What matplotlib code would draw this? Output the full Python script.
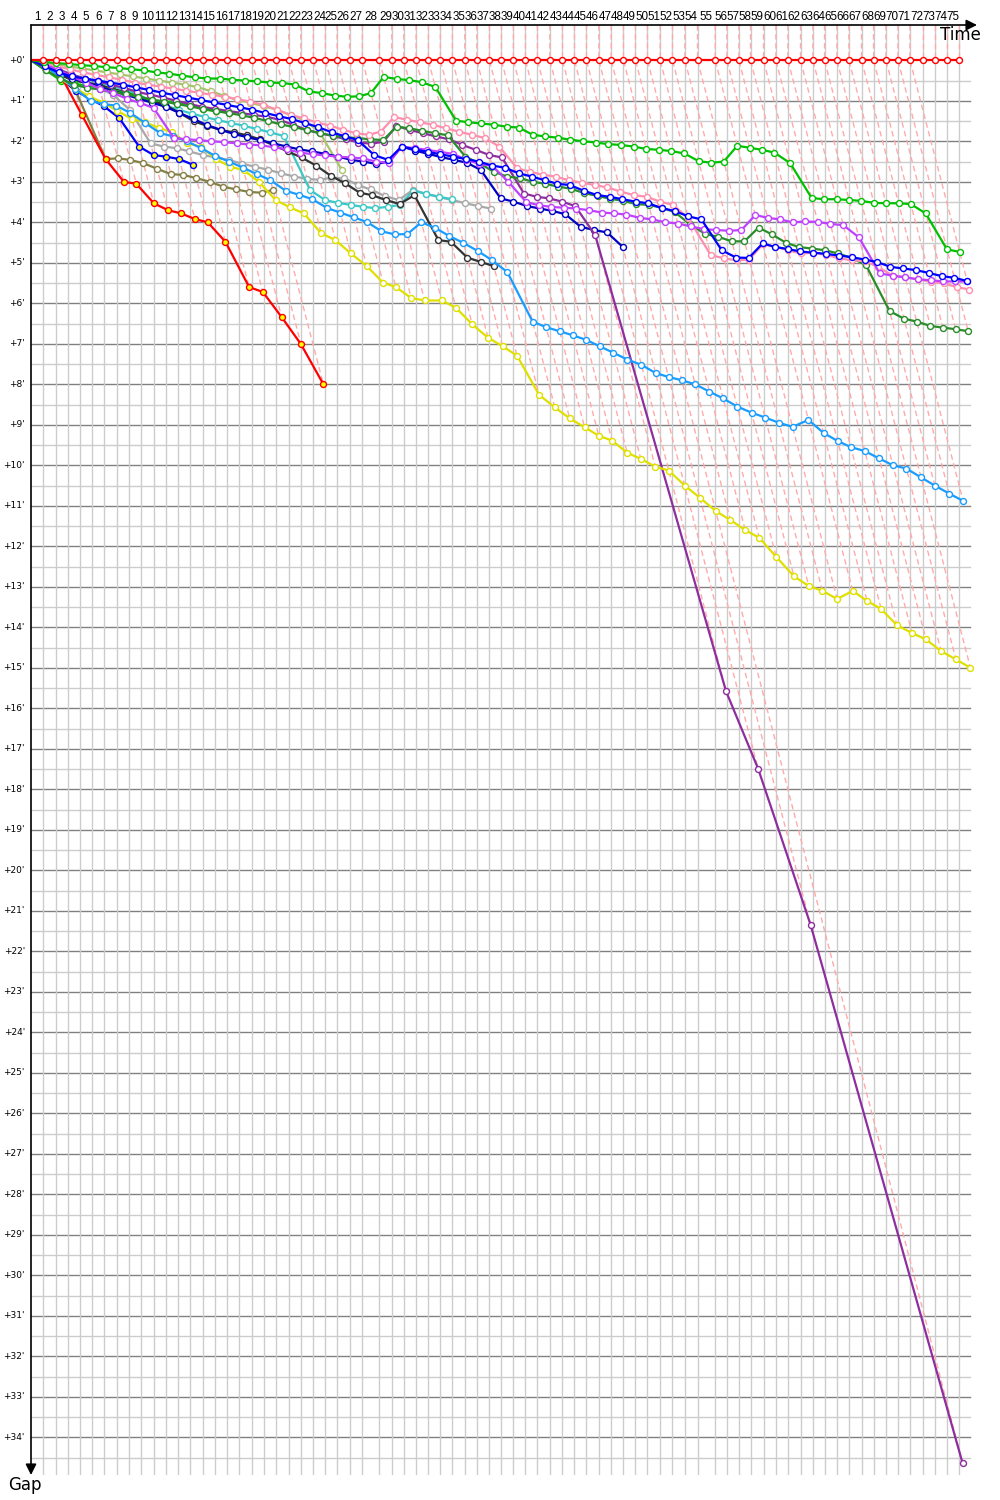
import matplotlib
matplotlib.use('Agg')
import matplotlib.pyplot as plt
import numpy as np

leader_lap_s = [70.3, 70.9, 68.6, 70.3, 70.3, 68.6, 70.9, 70.3, 70.3, 70.9,
                68.6, 72.0, 68.6, 70.9, 70.3, 70.3, 68.6, 70.9, 70.3, 70.3,
                70.9, 68.6, 72.0, 68.6, 66.9, 71.4, 73.1, 97.1, 70.9, 68.6,
                70.3, 70.3, 68.6, 68.6, 70.9, 68.6, 72.0, 68.6, 68.6, 68.6,
                68.6, 70.9, 72.0, 68.6, 68.6, 70.9, 70.3, 70.3, 68.6, 68.6,
                72.6, 70.3, 70.9, 72.0, 101.1, 66.9, 68.6, 66.3, 74.3, 70.9,
                68.6, 72.0, 70.9, 66.3, 70.9, 68.6, 72.0, 68.6, 70.9, 68.6,
                68.6, 74.3, 68.6, 68.6, 70.3]

# gaps to the leader in minutes, one value per completed lap
gap_leader = [0.0, 0.0, 0.0, 0.0, 0.0, 0.0, 0.0, 0.0, 0.0, 0.0,
              0.0, 0.0, 0.0, 0.0, 0.0, 0.0, 0.0, 0.0, 0.0, 0.0,
              0.0, 0.0, 0.0, 0.0, 0.0, 0.0, 0.0, 0.0, 0.0, 0.0,
              0.0, 0.0, 0.0, 0.0, 0.0, 0.0, 0.0, 0.0, 0.0, 0.0,
              0.0, 0.0, 0.0, 0.0, 0.0, 0.0, 0.0, 0.0, 0.0, 0.0,
              0.0, 0.0, 0.0, 0.0, 0.0, 0.0, 0.0, 0.0, 0.0, 0.0,
              0.0, 0.0, 0.0, 0.0, 0.0, 0.0, 0.0, 0.0, 0.0, 0.0,
              0.0, 0.0, 0.0, 0.0, 0.0]

gap_green = [0.04, 0.07, 0.09, 0.12, 0.14, 0.17, 0.19, 0.22, 0.25, 0.30,
             0.33, 0.38, 0.42, 0.45, 0.45, 0.48, 0.50, 0.52, 0.55, 0.56,
             0.60, 0.77, 0.81, 0.87, 0.90, 0.89, 0.81, 0.41, 0.46, 0.49,
             0.54, 0.66, 1.49, 1.53, 1.56, 1.59, 1.64, 1.66, 1.84, 1.88,
             1.91, 1.96, 2.00, 2.03, 2.07, 2.09, 2.13, 2.19, 2.21, 2.24,
             2.30, 2.49, 2.53, 2.50, 2.11, 2.16, 2.21, 2.28, 2.54, 3.40,
             3.43, 3.43, 3.45, 3.47, 3.52, 3.53, 3.53, 3.55, 3.78, 4.67, 4.73]

gap_blue = [0.15, 0.30, 0.40, 0.45, 0.50, 0.55, 0.60, 0.67, 0.73, 0.80,
            0.86, 0.92, 0.98, 1.04, 1.10, 1.16, 1.22, 1.30, 1.38, 1.45,
            1.55, 1.65, 1.78, 1.88, 1.97, 2.34, 2.46, 2.13, 2.20, 2.26,
            2.32, 2.38, 2.44, 2.50, 2.60, 2.65, 2.79, 2.87, 2.96, 3.05,
            3.08, 3.22, 3.33, 3.37, 3.43, 3.49, 3.53, 3.65, 3.72, 3.85,
            3.93, 4.69, 4.87, 4.88, 4.52, 4.61, 4.66, 4.72, 4.75, 4.78,
            4.82, 4.86, 4.92, 4.98, 5.10, 5.14, 5.18, 5.25, 5.33, 5.37, 5.45]

gap_violet = [0.10, 0.25, 0.40, 0.55, 0.70, 0.80, 0.95, 1.05, 1.18, 1.92,
              1.95, 1.97, 2.00, 2.02, 2.05, 2.08, 2.10, 2.15, 2.20, 2.28,
              2.32, 2.35, 2.38, 2.40, 2.42, 2.50, 2.53, 2.13, 2.17, 2.21,
              2.26, 2.31, 2.45, 2.56, 2.60, 3.00, 3.50, 3.58, 3.62, 3.64,
              3.66, 3.70, 3.76, 3.78, 3.81, 3.89, 3.93, 4.00, 4.03, 4.10,
              4.17, 4.19, 4.21, 4.19, 3.82, 3.89, 3.93, 4.00, 3.98, 3.99,
              4.04, 4.07, 4.37, 5.26, 5.32, 5.36, 5.41, 5.43, 5.46, 5.46, 5.46]

gap_pink = [0.08, 0.15, 0.22, 0.30, 0.36, 0.42, 0.48, 0.55, 0.60, 0.65,
            0.70, 0.75, 0.80, 0.85, 0.90, 0.96, 1.02, 1.10, 1.22, 1.35,
            1.43, 1.54, 1.61, 1.72, 1.80, 1.84, 1.76, 1.40, 1.47, 1.53,
            1.59, 1.68, 1.76, 1.84, 1.92, 2.13, 2.67, 2.75, 2.83, 2.87,
            2.96, 3.02, 3.08, 3.14, 3.24, 3.33, 3.37, 3.49, 3.57, 3.90,
            4.81, 4.89, 4.94, 4.92, 4.54, 4.61, 4.69, 4.77, 4.75, 4.81,
            4.89, 4.94, 4.96, 5.10, 5.32, 5.35, 5.41, 5.47, 5.51, 5.60, 5.66]

gap_darkgreen = [0.25, 0.45, 0.60, 0.68, 0.72, 0.78, 0.84, 0.90, 0.97, 1.02,
                 1.08, 1.14, 1.20, 1.25, 1.30, 1.36, 1.42, 1.50, 1.58, 1.65,
                 1.72, 1.80, 1.86, 1.90, 1.92, 1.95, 1.97, 1.64, 1.68, 1.74,
                 1.80, 1.85, 2.38, 2.54, 2.75, 2.87, 2.91, 3.00, 3.05, 3.12,
                 3.17, 3.28, 3.35, 3.42, 3.47, 3.55, 3.57, 3.64, 3.75, 4.05,
                 4.29, 4.36, 4.47, 4.47, 4.13, 4.30, 4.51, 4.61, 4.65, 4.69,
                 4.77, 4.88, 5.06, 6.19, 6.38, 6.45, 6.56, 6.60, 6.64, 6.69]

gap_sky = [0.15, 0.40, 0.70, 1.00, 1.08, 1.12, 1.30, 1.55, 1.80, 1.88,
           2.00, 2.17, 2.36, 2.50, 2.65, 2.81, 2.96, 3.22, 3.32, 3.43,
           3.65, 3.76, 3.88, 4.00, 4.22, 4.30, 4.29, 4.00, 4.14, 4.34,
           4.51, 4.71, 4.94, 5.23, 6.45, 6.59, 6.69, 6.79, 6.90, 7.06,
           7.22, 7.39, 7.52, 7.72, 7.82, 7.90, 8.00, 8.18, 8.35, 8.55,
           8.70, 8.82, 8.95, 9.05, 8.88, 9.20, 9.40, 9.55, 9.65, 9.83,
           10.00, 10.08, 10.30, 10.50, 10.70, 10.88]

gap_yellow = [0.20, 0.45, 0.69, 0.89, 1.05, 1.25, 1.45, 1.53, 1.67, 1.78,
              2.05, 2.13, 2.44, 2.63, 2.71, 3.00, 3.45, 3.63, 3.78, 4.27,
              4.44, 4.77, 5.08, 5.49, 5.60, 5.87, 5.93, 5.93, 6.11, 6.52,
              6.85, 7.06, 7.29, 8.26, 8.57, 8.84, 9.06, 9.27, 9.39, 9.69,
              9.84, 10.03, 10.13, 10.50, 10.80, 11.13, 11.35, 11.60, 11.79, 12.26,
              12.74, 12.98, 13.10, 13.30, 13.10, 13.35, 13.55, 13.95, 14.14, 14.30,
              14.59, 14.79, 15.00]

gap_purple = [0.12, 0.22, 0.35, 0.45, 0.52, 0.60, 0.68, 0.78, 0.85, 0.92,
              1.00, 1.08, 1.15, 1.20, 1.25, 1.30, 1.35, 1.39, 1.47, 1.59,
              1.72, 1.80, 1.87, 1.95, 2.03, 2.06, 2.01, 1.62, 1.72, 1.80,
              1.88, 1.95, 2.09, 2.21, 2.34, 2.40, 3.29, 3.37, 3.41, 3.49,
              3.60, 4.32, 15.58, 17.49, 21.35, 34.64]

gap_navy = [0.15, 0.30, 0.45, 0.55, 0.65, 0.75, 0.85, 0.95, 1.05, 1.15,
            1.30, 1.45, 1.60, 1.72, 1.82, 1.90, 1.97, 2.05, 2.13, 2.20,
            2.25, 2.31, 2.38, 2.46, 2.50, 2.56, 2.50, 2.13, 2.23, 2.31,
            2.39, 2.46, 2.53, 2.71, 3.41, 3.49, 3.60, 3.66, 3.72, 3.80,
            4.11, 4.19, 4.25, 4.61]

gap_black = [0.15, 0.35, 0.50, 0.55, 0.60, 0.70, 0.78, 0.90, 1.00, 1.10,
             1.30, 1.51, 1.62, 1.72, 1.78, 1.85, 1.95, 2.10, 2.25, 2.40,
             2.60, 2.85, 3.04, 3.27, 3.33, 3.45, 3.55, 3.33, 4.44, 4.48,
             4.87, 4.98, 5.08]

gap_cyan = [0.10, 0.22, 0.35, 0.45, 0.55, 0.62, 0.72, 0.85, 1.00, 1.12,
            1.22, 1.32, 1.40, 1.48, 1.55, 1.62, 1.70, 1.78, 1.87, 3.20,
            3.45, 3.52, 3.57, 3.62, 3.65, 3.62, 3.57, 3.22, 3.30, 3.37, 3.43]

gap_gray = [0.10, 0.25, 0.40, 0.55, 0.70, 0.85, 1.22, 2.05, 2.13, 2.17,
            2.25, 2.34, 2.40, 2.46, 2.55, 2.63, 2.70, 2.79, 2.87, 2.93,
            2.95, 2.90, 2.91, 3.08, 3.19, 3.35, 3.45, 3.20, 3.30, 3.38,
            3.45, 3.53, 3.60, 3.66]

gap_olive = [0.20, 0.45, 0.75, 2.44, 2.42, 2.46, 2.54, 2.68, 2.81, 2.83,
             2.91, 3.00, 3.12, 3.19, 3.25, 3.27, 3.20]

gap_lightolive = [0.05, 0.10, 0.15, 0.20, 0.25, 0.30, 0.35, 0.40, 0.45, 0.50,
                  0.55, 0.60, 0.66, 0.76, 0.88, 0.98, 1.05, 1.13, 1.22, 1.35,
                  1.48, 1.76, 2.71]

gap_red_y = [0.15, 0.27, 1.35, 2.44, 3.00, 3.05, 3.53, 3.70, 3.78, 3.92,
             4.00, 4.48, 5.60, 5.72, 6.34, 7.01, 8.00]

gap_blue_y = [0.20, 0.42, 0.75, 0.95, 1.14, 1.43, 2.13, 2.34, 2.38, 2.44, 2.58]

gap_green_y = [0.25, 0.50, 0.57, 0.63, 0.66, 0.73, 0.81, 0.89, 0.98, 1.02,
               1.02, 1.10, 1.21, 1.26, 1.30]

# line colour and marker fill for each car, drawn in this order
cars = [
    (gap_lightolive, '#a8c46c', 'white'),
    (gap_olive, '#857f45', 'white'),
    (gap_gray, '#a8a8a8', 'white'),
    (gap_cyan, '#3cc8c8', 'white'),
    (gap_black, '#333333', 'white'),
    (gap_green_y, '#00cc00', '#ffff00'),
    (gap_blue_y, '#0000ff', '#ffff00'),
    (gap_red_y, '#ff0000', '#ffff00'),
    (gap_navy, '#0000c0', 'white'),
    (gap_purple, '#8e2e9e', 'white'),
    (gap_yellow, '#e0e000', 'white'),
    (gap_sky, '#1a9cff', 'white'),
    (gap_darkgreen, '#2a8c2a', 'white'),
    (gap_pink, '#ff8fae', 'white'),
    (gap_violet, '#c040ff', 'white'),
    (gap_blue, '#0000ff', 'white'),
    (gap_green, '#00c000', 'white'),
    (gap_leader, '#ff0000', 'white'),
]

# leader crossing times in minutes
lap_t = np.concatenate([[0.0], np.cumsum(leader_lap_s) / 60.0])
n_laps = len(leader_lap_s)

fig = plt.figure(figsize=(10, 15), dpi=100)
# axes box in pixels: left 31, right 977, top 25, bottom 1475
ax = fig.add_axes([31 / 1000, 25 / 1500, 946 / 1000, 1450 / 1500])
x_max = 946 / 10.5
y_top = -35.3 / 40.5
y_bot = 1414.7 / 40.5
ax.set_xlim(0, x_max)
ax.set_ylim(y_bot, y_top)
for s in ax.spines.values():
    s.set_visible(False)
ax.set_xticks([])
ax.set_yticks([])

grid_right = 939 / 10.5
# horizontal grid: every half minute, darker every minute
for i in range(1, 70):
    g = i / 2
    if i % 2 == 0:
        ax.plot([0, grid_right], [g, g], color='#808080', lw=1.0, zorder=1)
    else:
        ax.plot([0, grid_right], [g, g], color='#cccccc', lw=1.0, zorder=1)
# vertical grid at each leader crossing
for k in range(1, n_laps + 1):
    ax.plot([lap_t[k], lap_t[k]], [y_top, y_bot], color='#cccccc', lw=1.0, zorder=1)

# dashed lap lines: leader crossing down to the last car on that lap
for k in range(1, n_laps + 1):
    gaps_here = [c[0][k - 1] for c in cars if len(c[0]) >= k]
    gmax = max(gaps_here)
    xs = [lap_t[k], lap_t[k], lap_t[k] + gmax]
    ys = [y_top, 0, gmax]
    ax.plot(xs, ys, color='#ffaaaa', lw=1.0, ls=(0, (4, 2.5)), zorder=2)

# cars
for z, (gaps, col, face) in enumerate(cars):
    n = len(gaps)
    xs = [0.0] + [lap_t[k] + gaps[k - 1] for k in range(1, n + 1)]
    ys = [0.0] + list(gaps)
    ax.plot(xs, ys, color=col, lw=1.6, marker='o', ms=4.3, mfc=face,
            mec=col, mew=1.0, markevery=list(range(1, n + 1)), zorder=3 + z)

# axes with arrows
ax.annotate('', xy=(1.0, 1.0), xytext=(0.0, 1.0), xycoords='axes fraction',
            arrowprops=dict(arrowstyle='-|>', color='black', lw=1.2,
                            mutation_scale=16, shrinkA=0, shrinkB=0), zorder=30)
ax.annotate('', xy=(0.0, 0.0), xytext=(0.0, 1.0), xycoords='axes fraction',
            arrowprops=dict(arrowstyle='-|>', color='black', lw=1.2,
                            mutation_scale=16, shrinkA=0, shrinkB=0), zorder=30)

# lap numbers along the top
xt = ax.get_xaxis_transform()
for k in range(1, n_laps + 1):
    ax.text((lap_t[k - 1] + lap_t[k]) / 2, 1.0058, str(k), transform=xt,
            ha='center', va='center', fontsize=8.4, family='Liberation Sans',
            clip_on=False)

# gap labels on the left
yt = ax.get_yaxis_transform()
for m in range(0, 35):
    ax.text(-0.0065, m, "+%d'" % m, transform=yt, ha='right', va='center',
            fontsize=6.5, clip_on=False)

ax.text(0.982, 0.993, 'Time', transform=ax.transAxes, ha='center',
        va='center', fontsize=12)
ax.text(-0.006, -0.007, 'Gap', transform=ax.transAxes, ha='center',
        va='center', fontsize=12, clip_on=False)

fig.savefig('out.png', dpi=100)
